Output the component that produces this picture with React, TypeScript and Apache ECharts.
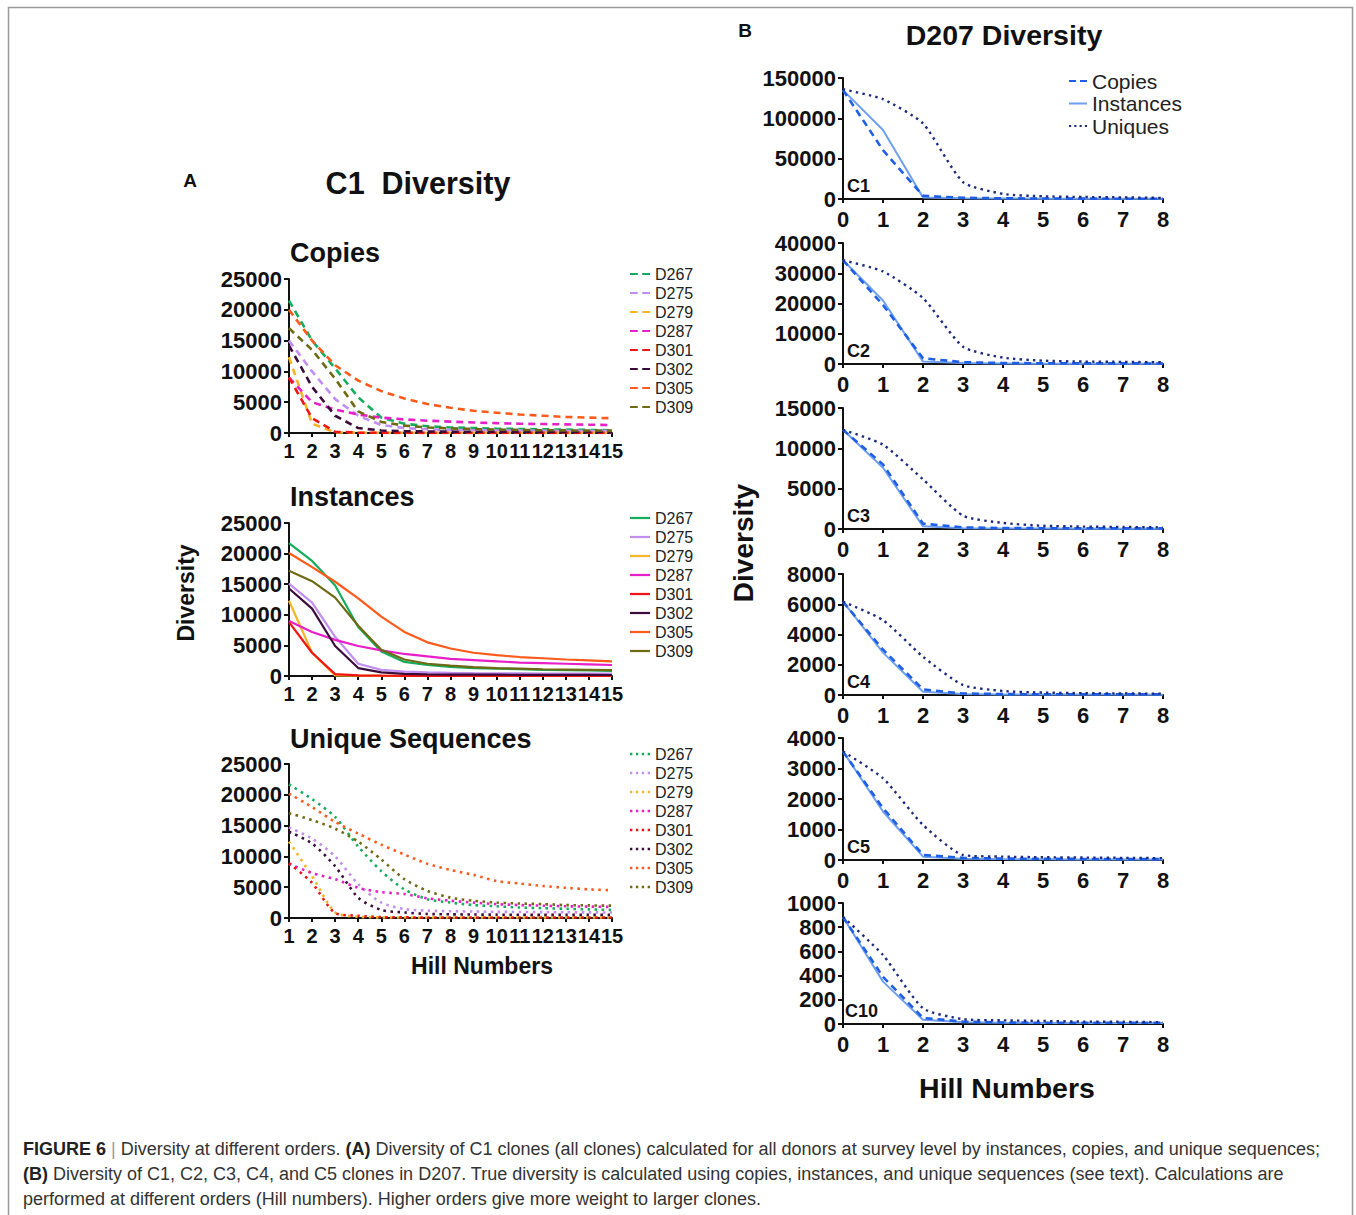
import React, { useEffect, useRef } from "react";
import * as echarts from "echarts";

// ---------- DATA ----------
const HILL_A = [1, 2, 3, 4, 5, 6, 7, 8, 9, 10, 11, 12, 13, 14, 15];
const HILL_B = [0, 1, 2, 3, 4, 5, 6, 7, 8];

const DONORS = ["D267", "D275", "D279", "D287", "D301", "D302", "D305", "D309"];
const DONOR_COLORS = ["#14ad5c", "#c28ef2", "#f5b526", "#e81ec9", "#f01414", "#3b0b3b", "#ff5a1a", "#6e6a14"];

// Panel A - Copies
const COPIES_D267 = [21500, 15000, 10500, 5800, 2500, 1500, 1100, 900, 800, 700, 650, 600, 550, 500, 450];
const COPIES_D275 = [15000, 10000, 5500, 2800, 1300, 800, 600, 500, 450, 400, 380, 350, 330, 310, 300];
const COPIES_D279 = [12300, 1500, 100, 50, 30, 20, 20, 20, 20, 20, 20, 20, 20, 20, 20];
const COPIES_D287 = [9000, 5000, 3800, 3000, 2500, 2200, 2000, 1850, 1700, 1600, 1500, 1450, 1400, 1350, 1300];
const COPIES_D301 = [9000, 2400, 200, 60, 30, 20, 20, 20, 20, 20, 20, 20, 20, 20, 20];
const COPIES_D302 = [14200, 7500, 2800, 800, 400, 300, 250, 220, 200, 200, 190, 180, 170, 160, 150];
const COPIES_D305 = [20000, 15000, 11000, 8500, 6800, 5600, 4700, 4100, 3600, 3300, 3000, 2800, 2600, 2500, 2400];
const COPIES_D309 = [17000, 13500, 8800, 3500, 1800, 1200, 900, 750, 650, 550, 500, 450, 420, 400, 380];

// Panel A - Instances
const INST_D267 = [21700, 18800, 14800, 8000, 4000, 2300, 1800, 1500, 1300, 1200, 1100, 1000, 950, 900, 850];
const INST_D275 = [15100, 12000, 6400, 2000, 1000, 700, 600, 520, 480, 450, 430, 410, 400, 390, 380];
const INST_D279 = [12300, 3800, 100, 50, 30, 20, 20, 20, 20, 20, 20, 20, 20, 20, 20];
const INST_D287 = [9000, 7200, 5900, 4900, 4200, 3600, 3200, 2800, 2600, 2400, 2200, 2100, 2000, 1900, 1800];
const INST_D301 = [8800, 3800, 300, 100, 50, 30, 20, 20, 20, 20, 20, 20, 20, 20, 20];
const INST_D302 = [14300, 11000, 4900, 1300, 600, 350, 280, 240, 220, 210, 200, 190, 180, 170, 160];
const INST_D305 = [20100, 17800, 15400, 12700, 9700, 7200, 5500, 4500, 3800, 3400, 3100, 2900, 2700, 2550, 2400];
const INST_D309 = [17200, 15500, 12800, 8200, 4300, 2700, 2000, 1700, 1450, 1300, 1200, 1100, 1050, 1000, 950];

// Panel A - Unique sequences
const UNIQ_D267 = [21700, 19300, 16400, 11600, 7600, 4650, 3050, 2500, 2100, 1900, 1700, 1600, 1500, 1400, 1300];
const UNIQ_D275 = [14700, 12900, 10000, 5500, 2500, 1450, 1200, 1100, 1050, 1000, 980, 950, 930, 910, 900];
const UNIQ_D279 = [12400, 6800, 900, 200, 100, 80, 70, 70, 70, 70, 70, 70, 70, 70, 70];
const UNIQ_D287 = [8800, 7300, 6300, 4900, 4200, 3900, 3200, 2800, 2500, 2250, 2100, 2000, 1900, 1850, 1800];
const UNIQ_D301 = [8900, 5700, 800, 370, 150, 100, 80, 80, 80, 80, 80, 80, 80, 80, 80];
const UNIQ_D302 = [14000, 12100, 8400, 3300, 1300, 900, 650, 600, 560, 540, 520, 510, 500, 500, 500];
const UNIQ_D305 = [20200, 18000, 15600, 13700, 11900, 10300, 8800, 7800, 7000, 6000, 5600, 5200, 4900, 4650, 4500];
const UNIQ_D309 = [17000, 15900, 14500, 12400, 9500, 6300, 4400, 3300, 2800, 2500, 2350, 2250, 2100, 2050, 2000];

// Panel B - D207
const CLONES = ["C1", "C2", "C3", "C4", "C5", "C10"];
const B_MAX = [150000, 40000, 15000, 8000, 4000, 1000];
const B_STEP = [50000, 10000, 5000, 2000, 1000, 200];

const C1_COPIES = [135000, 60500, 4000, 1500, 800, 600, 450, 350, 300];
const C1_INST = [135000, 85500, 2000, 1000, 600, 450, 350, 300, 250];
const C1_UNIQ = [136000, 123700, 93700, 21000, 6300, 3300, 2500, 2000, 1300];
const C2_COPIES = [34300, 19500, 1900, 600, 300, 250, 200, 200, 180];
const C2_INST = [34300, 21000, 800, 300, 150, 120, 100, 100, 90];
const C2_UNIQ = [34300, 30600, 21800, 5700, 2100, 1100, 800, 700, 550];
const C3_COPIES = [12300, 8000, 660, 200, 120, 100, 90, 80, 80];
const C3_INST = [12300, 7600, 330, 100, 60, 50, 40, 40, 40];
const C3_UNIQ = [12300, 10450, 6150, 1650, 750, 400, 300, 250, 200];
const C4_COPIES = [6170, 3000, 370, 100, 60, 50, 45, 40, 40];
const C4_INST = [6170, 2800, 220, 60, 40, 30, 25, 25, 20];
const C4_UNIQ = [6170, 4950, 2530, 660, 265, 160, 120, 100, 90];
const C5_COPIES = [3560, 1700, 165, 70, 45, 40, 35, 30, 30];
const C5_INST = [3560, 1590, 110, 40, 30, 25, 20, 20, 20];
const C5_UNIQ = [3560, 2680, 1150, 165, 110, 90, 80, 70, 60];
const C10_COPIES = [885, 390, 50, 20, 12, 10, 10, 10, 10];
const C10_INST = [885, 350, 35, 15, 10, 8, 8, 8, 8];
const C10_UNIQ = [885, 570, 130, 40, 30, 25, 20, 18, 15];

const CAPTION_LINES = [
  "{b|FIGURE 6} {g||} Diversity at different orders. {b|(A)} Diversity of C1 clones (all clones) calculated for all donors at survey level by instances, copies, and unique sequences;",
  "{b|(B)} Diversity of C1, C2, C3, C4, and C5 clones in D207. True diversity is calculated using copies, instances, and unique sequences (see text). Calculations are",
  "performed at different orders (Hill numbers). Higher orders give more weight to larger clones.",
];

// ---------- OPTION BUILDING ----------
const FONT = "Arial, 'Liberation Sans', Helvetica, sans-serif";
const INK = "#111";

const COPIES_A = [COPIES_D267, COPIES_D275, COPIES_D279, COPIES_D287, COPIES_D301, COPIES_D302, COPIES_D305, COPIES_D309];
const INST_A = [INST_D267, INST_D275, INST_D279, INST_D287, INST_D301, INST_D302, INST_D305, INST_D309];
const UNIQ_A = [UNIQ_D267, UNIQ_D275, UNIQ_D279, UNIQ_D287, UNIQ_D301, UNIQ_D302, UNIQ_D305, UNIQ_D309];
const B_COPIES = [C1_COPIES, C2_COPIES, C3_COPIES, C4_COPIES, C5_COPIES, C10_COPIES];
const B_INST = [C1_INST, C2_INST, C3_INST, C4_INST, C5_INST, C10_INST];
const B_UNIQ = [C1_UNIQ, C2_UNIQ, C3_UNIQ, C4_UNIQ, C5_UNIQ, C10_UNIQ];

const GRIDS_A = [
  { left: 289, top: 279, width: 323, height: 154 },
  { left: 289, top: 523, width: 323, height: 153 },
  { left: 289, top: 764, width: 323, height: 154 },
];
const GRIDS_B = [
  { left: 843, top: 78, width: 320, height: 121 },
  { left: 843, top: 243, width: 320, height: 121 },
  { left: 843, top: 408, width: 320, height: 121 },
  { left: 843, top: 574, width: 320, height: 121 },
  { left: 843, top: 738, width: 320, height: 122 },
  { left: 843, top: 903, width: 320, height: 121 },
];

const DASH_ICON = "path://M0,0H7V2H0Z M11,0H18V2H11Z";
const SOLID_ICON = "path://M0,0H18V2H0Z";
const DOT_ICON = "path://M0,0H2V2H0Z M5,0H7V2H5Z M10,0H12V2H10Z M15,0H17V2H15Z";

const MEASURES_A = [
  { key: "Copies", data: COPIES_A, type: [7, 5] as any, smooth: false, icon: DASH_ICON, legendTop: 264.5 },
  { key: "Instances", data: INST_A, type: "solid" as any, smooth: false, icon: SOLID_ICON, legendTop: 508.5 },
  { key: "Unique", data: UNIQ_A, type: [2.5, 4.5] as any, smooth: 0.25, icon: DOT_ICON, legendTop: 744.5 },
];

const plain = (v: number) => String(v);

function axisX(gridIndex: number, min: number, max: number, margin: number, fontSize: number) {
  return {
    type: "value",
    gridIndex,
    min,
    max,
    interval: 1,
    axisLine: { show: true, onZero: false, lineStyle: { color: INK, width: 2 } },
    axisTick: { show: true, length: 4, lineStyle: { color: INK, width: 2 } },
    axisLabel: {
      color: INK, fontWeight: "bold", fontSize, fontFamily: FONT, margin,
      formatter: plain, showMinLabel: true, showMaxLabel: true, hideOverlap: false,
    },
    splitLine: { show: false },
  };
}
function axisY(gridIndex: number, max: number, interval: number) {
  return {
    type: "value",
    gridIndex,
    min: 0,
    max,
    interval,
    axisLine: { show: true, onZero: false, lineStyle: { color: INK, width: 2 } },
    axisTick: { show: true, length: 5, lineStyle: { color: INK, width: 2 } },
    axisLabel: {
      color: INK, fontWeight: "bold", fontSize: 22, fontFamily: FONT, margin: 7,
      formatter: plain, showMinLabel: true, showMaxLabel: true,
    },
    splitLine: { show: false },
  };
}

function text(x: number, y: number, t: string, size: number, opts: any = {}) {
  return {
    type: "text",
    x,
    y,
    rotation: opts.rotation || 0,
    silent: true,
    style: {
      text: t,
      fill: opts.fill || INK,
      fontSize: size,
      fontWeight: opts.weight || "bold",
      fontFamily: FONT,
      align: opts.align || "center",
      verticalAlign: "middle",
      rich: opts.rich,
    },
  };
}

function buildOption() {
  const grid: any[] = [];
  const xAxis: any[] = [];
  const yAxis: any[] = [];
  const series: any[] = [];
  const legend: any[] = [];

  GRIDS_A.forEach((g, gi) => {
    grid.push({ ...g, containLabel: false });
    xAxis.push(axisX(gi, 1, 15, 8, 20));
    yAxis.push(axisY(gi, 25000, 5000));
    const m = MEASURES_A[gi];
    DONORS.forEach((d, di) => {
      const color = DONOR_COLORS[di];
      series.push({
        type: "line",
        name: `${d} ${m.key}`,
        xAxisIndex: gi,
        yAxisIndex: gi,
        data: HILL_A.map((h, i) => [h, m.data[di][i]]),
        symbol: "none",
        smooth: m.smooth,
        color,
        itemStyle: { color },
        lineStyle: { color, width: gi === 1 ? 2.2 : 2.6, type: m.type },
        silent: true,
      });
    });
    legend.push({
      left: 630,
      top: m.legendTop,
      orient: "vertical",
      padding: 0,
      itemGap: 0,
      itemWidth: 20,
      itemHeight: 2.5,
      icon: m.icon,
      selectedMode: false,
      itemStyle: { borderWidth: 0 },
      data: DONORS.map((d) => `${d} ${m.key}`),
      formatter: (n: string) => n.split(" ")[0],
      textStyle: { fontSize: 16, lineHeight: 19, color: "#222", fontFamily: FONT },
    });
  });

  GRIDS_B.forEach((g, bi) => {
    const gi = GRIDS_A.length + bi;
    grid.push({ ...g, containLabel: false });
    xAxis.push(axisX(gi, 0, 8, 9, 22));
    yAxis.push(axisY(gi, B_MAX[bi], B_STEP[bi]));
    const pts = (arr: number[]) => HILL_B.map((h, i) => [h, arr[i]]);
    series.push({
      type: "line", name: "Instances", xAxisIndex: gi, yAxisIndex: gi, data: pts(B_INST[bi]),
      symbol: "none", color: "#6f9ff0", itemStyle: { color: "#6f9ff0" },
      lineStyle: { color: "#6f9ff0", width: 2, type: "solid" }, silent: true,
    });
    series.push({
      type: "line", name: "Copies", xAxisIndex: gi, yAxisIndex: gi, data: pts(B_COPIES[bi]),
      symbol: "none", color: "#1f5fe8", itemStyle: { color: "#1f5fe8" },
      lineStyle: { color: "#1f5fe8", width: 2.6, type: [7, 5] }, silent: true,
    });
    series.push({
      type: "line", name: "Uniques", xAxisIndex: gi, yAxisIndex: gi, data: pts(B_UNIQ[bi]),
      symbol: "none", smooth: 0.2, color: "#1c2a7e", itemStyle: { color: "#1c2a7e" },
      lineStyle: { color: "#1c2a7e", width: 2.4, type: [2.4, 4.2] }, silent: true,
    });
  });

  legend.push({
    left: 1069,
    top: 69.75,
    orient: "vertical",
    padding: 0,
    itemGap: 0,
    itemWidth: 18,
    itemHeight: 2.5,
    selectedMode: false,
    itemStyle: { borderWidth: 0 },
    data: [
      { name: "Copies", icon: DASH_ICON },
      { name: "Instances", icon: SOLID_ICON },
      { name: "Uniques", icon: DOT_ICON },
    ],
    textStyle: { fontSize: 21, lineHeight: 22.5, color: "#222", fontFamily: FONT },
  });

  const graphics: any[] = [
    {
      type: "rect",
      silent: true,
      shape: { x: 8.5, y: 7.5, width: 1344, height: 1240 },
      style: { fill: "none", stroke: "#9a9a9a", lineWidth: 1.5 },
    },
    text(190, 180, "A", 19),
    text(418, 183, "C1  Diversity", 30.5),
    text(290, 253, "Copies", 27, { align: "left" }),
    text(290, 497, "Instances", 27, { align: "left" }),
    text(290, 739, "Unique Sequences", 27, { align: "left" }),
    text(482, 966, "Hill Numbers", 23),
    text(186, 593, "Diversity", 23, { rotation: Math.PI / 2 }),
    text(745, 30, "B", 19),
    text(1004, 35, "D207 Diversity", 28.5),
    text(743, 543, "Diversity", 28, { rotation: Math.PI / 2 }),
    text(1007, 1088, "Hill Numbers", 28.5),
  ];
  CLONES.forEach((c, bi) => {
    const g = GRIDS_B[bi];
    graphics.push(text(c === "C10" ? 845 : 847, g.top + g.height - 13, c, 18, { align: "left" }));
  });
  CAPTION_LINES.forEach((line, li) => {
    graphics.push(
      text(23, 1149 + li * 25, line, 18, {
        align: "left",
        weight: "normal",
        fill: "#333",
        rich: {
          b: { fontWeight: "bold", fontSize: 18, fontFamily: FONT, fill: "#222", color: "#222" },
          g: { fontSize: 18, fontFamily: FONT, color: "#999", fill: "#999" },
        },
      })
    );
  });

  return {
    animation: false,
    backgroundColor: "#ffffff",
    grid,
    xAxis,
    yAxis,
    series,
    legend,
    graphic: graphics,
  };
}

export default function App() {
  const ref = useRef<HTMLDivElement | null>(null);
  useEffect(() => {
    if (!ref.current) return;
    const chart = echarts.init(ref.current, undefined, { renderer: "svg" });
    chart.setOption(buildOption() as any);
    return () => chart.dispose();
  }, []);
  return (
    <div
      ref={ref}
      style={{ position: "absolute", left: 0, top: 0, width: 1356, height: 1215, background: "#fff" }}
    />
  );
}
